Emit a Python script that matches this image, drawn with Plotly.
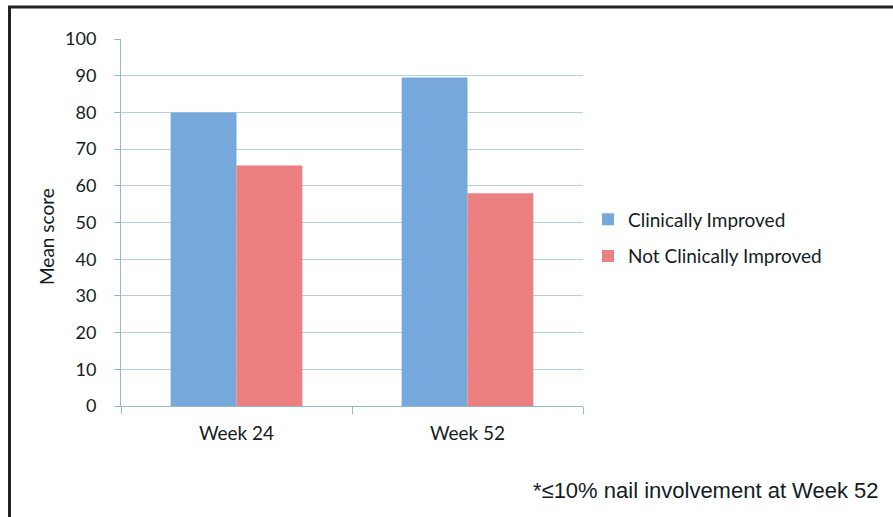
import plotly.graph_objects as go

# Mean score by visit, split by clinical improvement status
visits = ["Week 24", "Week 52"]
improved = [80, 89.5]
not_improved = [65.5, 58]
series_names = ["Clinically Improved", "Not Clinically Improved"]
y_ticks = [0, 10, 20, 30, 40, 50, 60, 70, 80, 90, 100]
footnote = "*\u226410% nail involvement at Week 52"

BODY_FONT = "Lato, 'Open Sans', sans-serif"
TEXT_COLOR = "#141d24"
GRID_COLOR = "#b3d0e3"
AXIS_COLOR = "#8fb9d6"

fig = go.Figure()
fig.add_trace(go.Bar(
    x=visits, y=improved, name=series_names[0], legendgroup="a",
    marker=dict(color="#77a8dc", line=dict(width=0)),
))
fig.add_trace(go.Bar(
    x=visits, y=not_improved, name=series_names[1], legendgroup="b",
    marker=dict(color="#ec7f7f", line=dict(width=0)),
))

W, H = 893, 517
L, R, T, B = 121, 310, 39, 111
pw, ph = W - L - R, H - T - B


def px(xp):
    return (xp - L) / pw


def py(yp):
    return (H - B - yp) / ph


fig.update_layout(
    width=W, height=H,
    margin=dict(l=L, r=R, t=T, b=B, pad=0),
    paper_bgcolor="white", plot_bgcolor="white",
    barmode="group", bargap=0.43, bargroupgap=0,
    font=dict(family=BODY_FONT, size=18, color=TEXT_COLOR),
    showlegend=True,
    legend=dict(
        x=px(588), y=py(238), xanchor="left", yanchor="middle",
        font=dict(size=19, family=BODY_FONT, color=TEXT_COLOR),
        traceorder="grouped", tracegroupgap=9,
        itemwidth=30, bgcolor="rgba(0,0,0,0)",
    ),
    xaxis=dict(
        showgrid=False, showline=True, linecolor=AXIS_COLOR, linewidth=1,
        ticks="outside", tickson="boundaries", ticklen=7, tickcolor=AXIS_COLOR,
        tickfont=dict(size=19), ticklabelstandoff=10,
        fixedrange=True,
    ),
    yaxis=dict(
        range=[0, 100], tickvals=y_ticks, showgrid=True, gridcolor=GRID_COLOR,
        gridwidth=1, showline=True, linecolor=AXIS_COLOR, linewidth=1,
        ticks="outside", ticklen=6, tickcolor=AXIS_COLOR,
        tickfont=dict(size=18), ticklabelstandoff=14, zeroline=False,
        fixedrange=True,
    ),
    annotations=[
        dict(text="Mean score", textangle=-90, x=px(46), y=py(237),
             xref="paper", yref="paper", xanchor="center", yanchor="middle",
             showarrow=False, font=dict(size=19, family=BODY_FONT, color=TEXT_COLOR)),
        dict(text=footnote, x=px(881), y=py(490), xref="paper", yref="paper",
             xanchor="right", yanchor="middle", showarrow=False,
             font=dict(size=22, family="'Liberation Sans', Arial, sans-serif",
                       color=TEXT_COLOR)),
    ],
    shapes=[
        dict(type="line", xref="paper", yref="paper", x0=px(8), x1=px(893),
             y0=py(7), y1=py(7), line=dict(color="#222222", width=3)),
        dict(type="line", xref="paper", yref="paper", x0=px(9.5), x1=px(9.5),
             y0=py(6), y1=py(517), line=dict(color="#222222", width=3)),
    ],
)

fig.write_html("out.html")
